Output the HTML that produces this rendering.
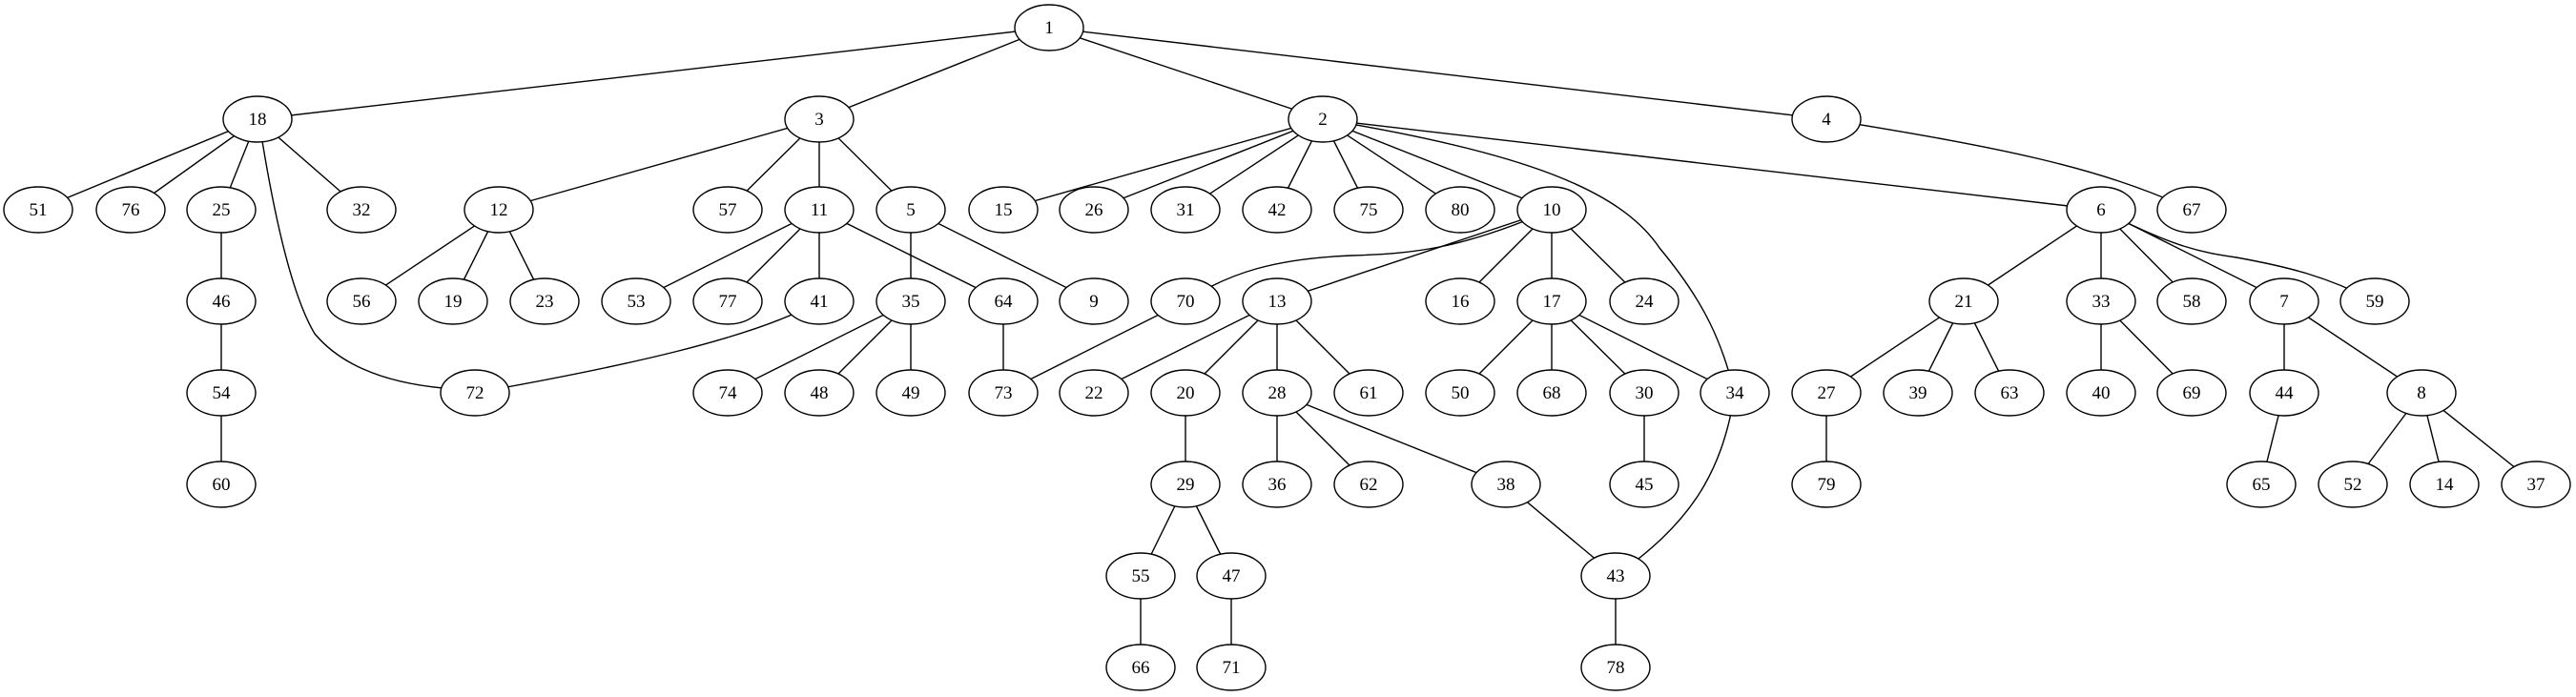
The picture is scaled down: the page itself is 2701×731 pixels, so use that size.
<!DOCTYPE html>
<html><head><meta charset="utf-8"><style>html,body{margin:0;padding:0;background:#fff}svg{display:block}text{font-family:"Liberation Serif","Times New Roman",serif}</style></head>
<body>
<svg width="2701" height="731" viewBox="0 0 2701 731" xmlns="http://www.w3.org/2000/svg">
<g stroke="#000" stroke-width="1.4" fill="none">
<line x1="1100" y1="29" x2="270" y2="125"/>
<line x1="1100" y1="29" x2="859" y2="125"/>
<line x1="1100" y1="29" x2="1387" y2="125"/>
<line x1="1100" y1="29" x2="1915" y2="125"/>
<line x1="270" y1="125" x2="40" y2="220"/>
<line x1="270" y1="125" x2="137" y2="220"/>
<line x1="270" y1="125" x2="232" y2="220"/>
<line x1="270" y1="125" x2="379" y2="220"/>
<path d="M275,148 Q300,300 330,350 Q370,398 464,407"/>
<line x1="859" y1="125" x2="523" y2="220"/>
<line x1="859" y1="125" x2="763" y2="220"/>
<line x1="859" y1="125" x2="859" y2="220"/>
<line x1="859" y1="125" x2="955" y2="220"/>
<line x1="1387" y1="125" x2="1052" y2="220"/>
<line x1="1387" y1="125" x2="1147" y2="220"/>
<line x1="1387" y1="125" x2="1243" y2="220"/>
<line x1="1387" y1="125" x2="1339" y2="220"/>
<line x1="1387" y1="125" x2="1435" y2="220"/>
<line x1="1387" y1="125" x2="1531" y2="220"/>
<line x1="1387" y1="125" x2="1627" y2="220"/>
<line x1="1387" y1="125" x2="2203" y2="220"/>
<path d="M1387,125 C1600,160 1700,200 1740,260 C1790,320 1805,360 1819,412"/>
<path d="M1915,125 C2100,155 2200,175 2298,220"/>
<line x1="232" y1="220" x2="232" y2="508"/>
<line x1="523" y1="220" x2="379" y2="316"/>
<line x1="523" y1="220" x2="475" y2="316"/>
<line x1="523" y1="220" x2="571" y2="316"/>
<line x1="859" y1="220" x2="667" y2="316"/>
<line x1="859" y1="220" x2="763" y2="316"/>
<line x1="859" y1="220" x2="859" y2="316"/>
<line x1="859" y1="220" x2="1052" y2="316"/>
<line x1="955" y1="220" x2="955" y2="316"/>
<line x1="955" y1="220" x2="1147" y2="316"/>
<path d="M859,316 C790,355 650,385 498,412"/>
<line x1="955" y1="316" x2="763" y2="412"/>
<line x1="955" y1="316" x2="859" y2="412"/>
<line x1="955" y1="316" x2="955" y2="412"/>
<line x1="1052" y1="316" x2="1052" y2="412"/>
<line x1="1243" y1="316" x2="1052" y2="412"/>
<path d="M1627,220 C1530,262 1480,266 1417,268 C1340,271 1290,285 1243,316"/>
<line x1="1627" y1="220" x2="1339" y2="316"/>
<line x1="1627" y1="220" x2="1531" y2="316"/>
<line x1="1627" y1="220" x2="1627" y2="316"/>
<line x1="1627" y1="220" x2="1724" y2="316"/>
<line x1="1339" y1="316" x2="1147" y2="412"/>
<line x1="1339" y1="316" x2="1243" y2="412"/>
<line x1="1339" y1="316" x2="1339" y2="412"/>
<line x1="1339" y1="316" x2="1435" y2="412"/>
<line x1="1627" y1="316" x2="1531" y2="412"/>
<line x1="1627" y1="316" x2="1627" y2="412"/>
<line x1="1627" y1="316" x2="1724" y2="412"/>
<line x1="1627" y1="316" x2="1819" y2="412"/>
<line x1="1243" y1="412" x2="1243" y2="508"/>
<line x1="1339" y1="412" x2="1339" y2="508"/>
<line x1="1339" y1="412" x2="1435" y2="508"/>
<line x1="1339" y1="412" x2="1579" y2="508"/>
<line x1="1724" y1="412" x2="1724" y2="508"/>
<line x1="1243" y1="508" x2="1196" y2="604"/>
<line x1="1243" y1="508" x2="1291" y2="604"/>
<line x1="1196" y1="604" x2="1196" y2="700"/>
<line x1="1291" y1="604" x2="1291" y2="700"/>
<line x1="1579" y1="508" x2="1694" y2="604"/>
<path d="M1819,412 C1805,500 1770,550 1694,604"/>
<line x1="1694" y1="604" x2="1694" y2="700"/>
<line x1="2203" y1="220" x2="2059" y2="316"/>
<line x1="2203" y1="220" x2="2203" y2="316"/>
<line x1="2203" y1="220" x2="2298" y2="316"/>
<line x1="2203" y1="220" x2="2395" y2="316"/>
<path d="M2203,220 C2280,260 2310,265 2345,270 C2400,280 2440,290 2490,316"/>
<line x1="2059" y1="316" x2="1915" y2="412"/>
<line x1="2059" y1="316" x2="2011" y2="412"/>
<line x1="2059" y1="316" x2="2107" y2="412"/>
<line x1="2203" y1="316" x2="2203" y2="412"/>
<line x1="2203" y1="316" x2="2298" y2="412"/>
<line x1="2395" y1="316" x2="2395" y2="412"/>
<line x1="2395" y1="316" x2="2539" y2="412"/>
<line x1="1915" y1="412" x2="1915" y2="508"/>
<line x1="2395" y1="412" x2="2371" y2="508"/>
<line x1="2539" y1="412" x2="2467" y2="508"/>
<line x1="2539" y1="412" x2="2563" y2="508"/>
<line x1="2539" y1="412" x2="2659" y2="508"/>
</g>
<g stroke="#000" stroke-width="1.4" fill="#fff">
<ellipse cx="1100" cy="29" rx="36" ry="24"/>
<ellipse cx="270" cy="125" rx="36" ry="24"/><ellipse cx="859" cy="125" rx="36" ry="24"/><ellipse cx="1387" cy="125" rx="36" ry="24"/><ellipse cx="1915" cy="125" rx="36" ry="24"/>
<ellipse cx="40" cy="220" rx="36" ry="24"/><ellipse cx="137" cy="220" rx="36" ry="24"/><ellipse cx="232" cy="220" rx="36" ry="24"/><ellipse cx="379" cy="220" rx="36" ry="24"/><ellipse cx="523" cy="220" rx="36" ry="24"/><ellipse cx="763" cy="220" rx="36" ry="24"/><ellipse cx="859" cy="220" rx="36" ry="24"/><ellipse cx="955" cy="220" rx="36" ry="24"/><ellipse cx="1052" cy="220" rx="36" ry="24"/><ellipse cx="1147" cy="220" rx="36" ry="24"/><ellipse cx="1243" cy="220" rx="36" ry="24"/><ellipse cx="1339" cy="220" rx="36" ry="24"/><ellipse cx="1435" cy="220" rx="36" ry="24"/><ellipse cx="1531" cy="220" rx="36" ry="24"/><ellipse cx="1627" cy="220" rx="36" ry="24"/><ellipse cx="2203" cy="220" rx="36" ry="24"/><ellipse cx="2298" cy="220" rx="36" ry="24"/>
<ellipse cx="232" cy="316" rx="36" ry="24"/><ellipse cx="379" cy="316" rx="36" ry="24"/><ellipse cx="475" cy="316" rx="36" ry="24"/><ellipse cx="571" cy="316" rx="36" ry="24"/><ellipse cx="667" cy="316" rx="36" ry="24"/><ellipse cx="763" cy="316" rx="36" ry="24"/><ellipse cx="859" cy="316" rx="36" ry="24"/><ellipse cx="955" cy="316" rx="36" ry="24"/><ellipse cx="1052" cy="316" rx="36" ry="24"/><ellipse cx="1147" cy="316" rx="36" ry="24"/><ellipse cx="1243" cy="316" rx="36" ry="24"/><ellipse cx="1339" cy="316" rx="36" ry="24"/><ellipse cx="1531" cy="316" rx="36" ry="24"/><ellipse cx="1627" cy="316" rx="36" ry="24"/><ellipse cx="1724" cy="316" rx="36" ry="24"/><ellipse cx="2059" cy="316" rx="36" ry="24"/><ellipse cx="2203" cy="316" rx="36" ry="24"/><ellipse cx="2298" cy="316" rx="36" ry="24"/><ellipse cx="2395" cy="316" rx="36" ry="24"/><ellipse cx="2490" cy="316" rx="36" ry="24"/>
<ellipse cx="232" cy="412" rx="36" ry="24"/><ellipse cx="498" cy="412" rx="36" ry="24"/><ellipse cx="763" cy="412" rx="36" ry="24"/><ellipse cx="859" cy="412" rx="36" ry="24"/><ellipse cx="955" cy="412" rx="36" ry="24"/><ellipse cx="1052" cy="412" rx="36" ry="24"/><ellipse cx="1147" cy="412" rx="36" ry="24"/><ellipse cx="1243" cy="412" rx="36" ry="24"/><ellipse cx="1339" cy="412" rx="36" ry="24"/><ellipse cx="1435" cy="412" rx="36" ry="24"/><ellipse cx="1531" cy="412" rx="36" ry="24"/><ellipse cx="1627" cy="412" rx="36" ry="24"/><ellipse cx="1724" cy="412" rx="36" ry="24"/><ellipse cx="1819" cy="412" rx="36" ry="24"/><ellipse cx="1915" cy="412" rx="36" ry="24"/><ellipse cx="2011" cy="412" rx="36" ry="24"/><ellipse cx="2107" cy="412" rx="36" ry="24"/><ellipse cx="2203" cy="412" rx="36" ry="24"/><ellipse cx="2298" cy="412" rx="36" ry="24"/><ellipse cx="2395" cy="412" rx="36" ry="24"/><ellipse cx="2539" cy="412" rx="36" ry="24"/>
<ellipse cx="232" cy="508" rx="36" ry="24"/><ellipse cx="1243" cy="508" rx="36" ry="24"/><ellipse cx="1339" cy="508" rx="36" ry="24"/><ellipse cx="1435" cy="508" rx="36" ry="24"/><ellipse cx="1579" cy="508" rx="36" ry="24"/><ellipse cx="1724" cy="508" rx="36" ry="24"/><ellipse cx="1915" cy="508" rx="36" ry="24"/><ellipse cx="2371" cy="508" rx="36" ry="24"/><ellipse cx="2467" cy="508" rx="36" ry="24"/><ellipse cx="2563" cy="508" rx="36" ry="24"/><ellipse cx="2659" cy="508" rx="36" ry="24"/>
<ellipse cx="1196" cy="604" rx="36" ry="24"/><ellipse cx="1291" cy="604" rx="36" ry="24"/><ellipse cx="1694" cy="604" rx="36" ry="24"/>
<ellipse cx="1196" cy="700" rx="36" ry="24"/><ellipse cx="1291" cy="700" rx="36" ry="24"/><ellipse cx="1694" cy="700" rx="36" ry="24"/>
</g>
<g font-family="'Liberation Serif', serif" font-size="19" text-anchor="middle" fill="#000">
<text x="1100" y="35">1</text>
<text x="270" y="131">18</text><text x="859" y="131">3</text><text x="1387" y="131">2</text><text x="1915" y="131">4</text>
<text x="40" y="226">51</text><text x="137" y="226">76</text><text x="232" y="226">25</text><text x="379" y="226">32</text><text x="523" y="226">12</text><text x="763" y="226">57</text><text x="859" y="226">11</text><text x="955" y="226">5</text><text x="1052" y="226">15</text><text x="1147" y="226">26</text><text x="1243" y="226">31</text><text x="1339" y="226">42</text><text x="1435" y="226">75</text><text x="1531" y="226">80</text><text x="1627" y="226">10</text><text x="2203" y="226">6</text><text x="2298" y="226">67</text>
<text x="232" y="322">46</text><text x="379" y="322">56</text><text x="475" y="322">19</text><text x="571" y="322">23</text><text x="667" y="322">53</text><text x="763" y="322">77</text><text x="859" y="322">41</text><text x="955" y="322">35</text><text x="1052" y="322">64</text><text x="1147" y="322">9</text><text x="1243" y="322">70</text><text x="1339" y="322">13</text><text x="1531" y="322">16</text><text x="1627" y="322">17</text><text x="1724" y="322">24</text><text x="2059" y="322">21</text><text x="2203" y="322">33</text><text x="2298" y="322">58</text><text x="2395" y="322">7</text><text x="2490" y="322">59</text>
<text x="232" y="418">54</text><text x="498" y="418">72</text><text x="763" y="418">74</text><text x="859" y="418">48</text><text x="955" y="418">49</text><text x="1052" y="418">73</text><text x="1147" y="418">22</text><text x="1243" y="418">20</text><text x="1339" y="418">28</text><text x="1435" y="418">61</text><text x="1531" y="418">50</text><text x="1627" y="418">68</text><text x="1724" y="418">30</text><text x="1819" y="418">34</text><text x="1915" y="418">27</text><text x="2011" y="418">39</text><text x="2107" y="418">63</text><text x="2203" y="418">40</text><text x="2298" y="418">69</text><text x="2395" y="418">44</text><text x="2539" y="418">8</text>
<text x="232" y="514">60</text><text x="1243" y="514">29</text><text x="1339" y="514">36</text><text x="1435" y="514">62</text><text x="1579" y="514">38</text><text x="1724" y="514">45</text><text x="1915" y="514">79</text><text x="2371" y="514">65</text><text x="2467" y="514">52</text><text x="2563" y="514">14</text><text x="2659" y="514">37</text>
<text x="1196" y="610">55</text><text x="1291" y="610">47</text><text x="1694" y="610">43</text>
<text x="1196" y="706">66</text><text x="1291" y="706">71</text><text x="1694" y="706">78</text>
</g>
</svg>
</body></html>
